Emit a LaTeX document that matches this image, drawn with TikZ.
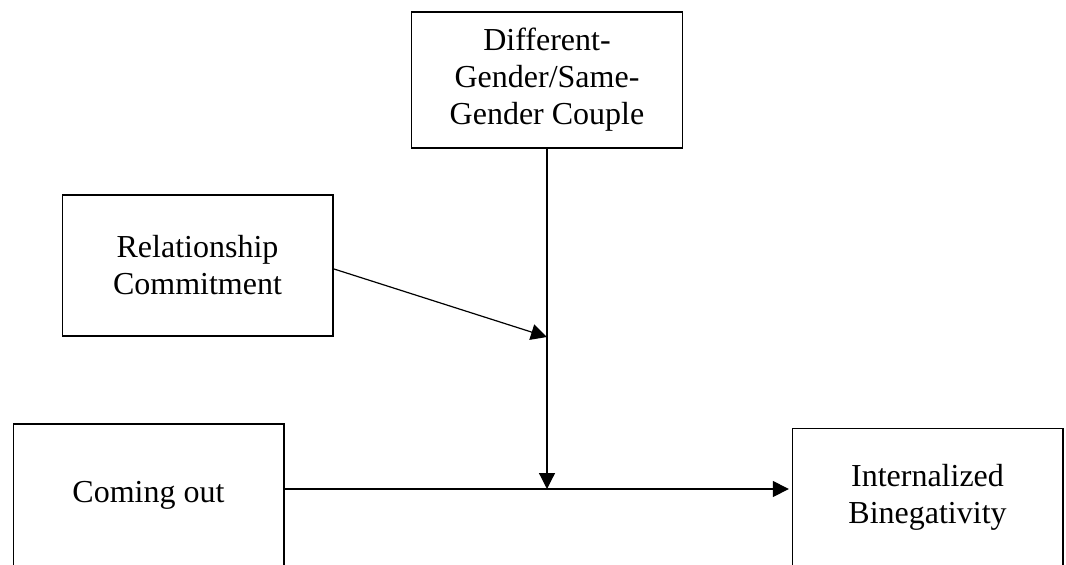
\documentclass[tikz,border=0pt]{standalone}
\usepackage{fontspec}
\setmainfont{Liberation Serif}
\usetikzlibrary{arrows.meta}
\begin{document}
\begin{tikzpicture}[x=0.75pt, y=-0.75pt,
            varbox/.style={draw, line width=1pt, minimum width=203pt, align=center, font=\fontsize{24}{27.75}\selectfont},
            arr/.style={-{Triangle[length=12pt,width=12pt]}, line width=0.9pt}]
            \useasboundingbox (0,0) rectangle (1066,564);
            \clip (0,0) rectangle (1066,564);
            \node[varbox, minimum height=102pt] (couple) at (547,80) {Different-\\Gender/Same-\\Gender Couple};
            \node[varbox, minimum height=105.75pt] (commit) at (197.5,265.5) {Relationship\\Commitment};
            \node[varbox, minimum height=106.5pt] (coming) at (148.5,495) {Coming out};
            \node[varbox, minimum height=102.75pt] (bineg) at (927.5,497) {Internalized\\Binegativity};
            \coordinate (join) at (547,489);
            \coordinate (mod) at (547,337);
            \draw[arr] (couple.south) -- (join);
            \draw[arr] ([yshift=-2.5pt]commit.east) -- (mod);
            \draw[arr] (coming.east |- join) -- ([xshift=-2pt]bineg.west |- join);
        \end{tikzpicture}
\end{document}
